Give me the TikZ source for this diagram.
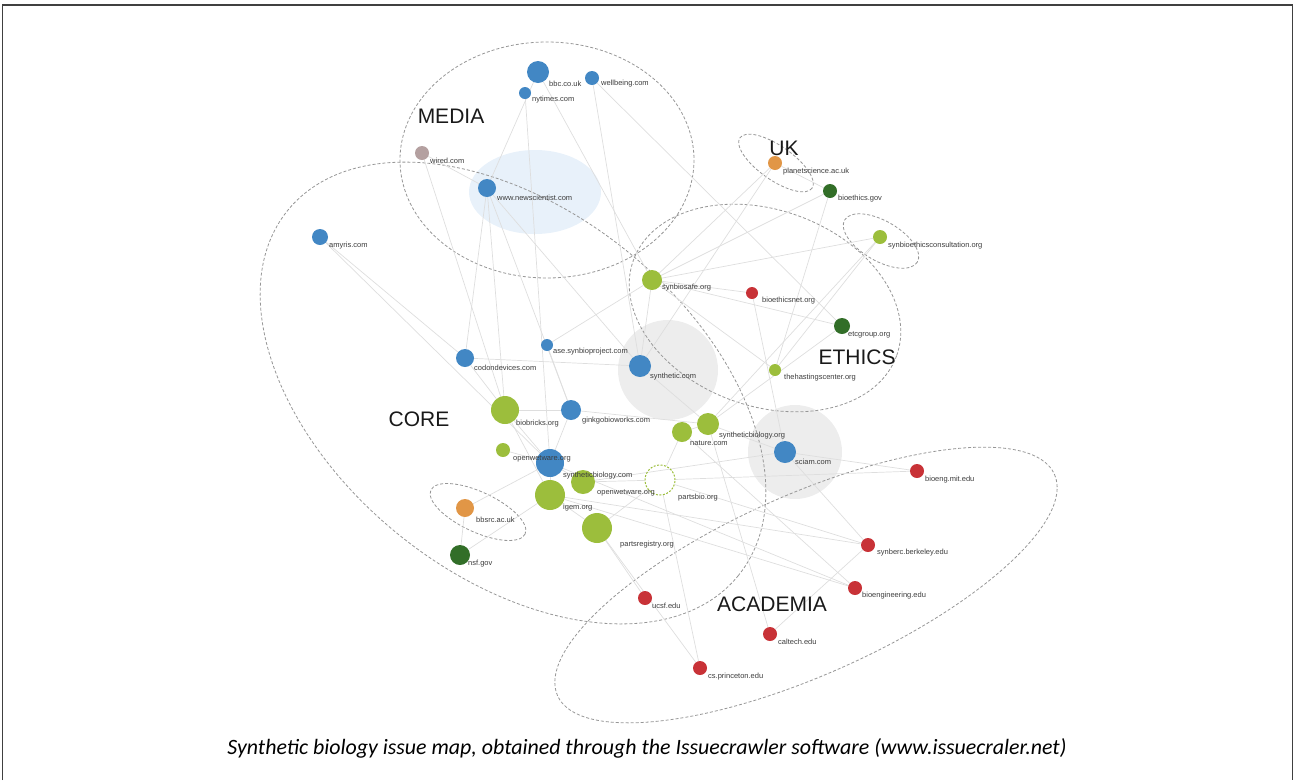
\documentclass[tikz,border=0pt]{standalone}
\usepackage{fontspec}
\setmainfont{Liberation Sans}
\newfontfamily\capfont{Carlito}
\usetikzlibrary{backgrounds}
\definecolor{cblue}{RGB}{66,135,196}
\definecolor{clgreen}{RGB}{156,190,60}
\definecolor{cdgreen}{RGB}{50,110,40}
\definecolor{cred}{RGB}{200,50,55}
\definecolor{corange}{RGB}{225,150,70}
\definecolor{cbrown}{RGB}{180,160,160}
\definecolor{edgegray}{RGB}{222,222,222}
\definecolor{clustgray}{RGB}{150,150,150}
\definecolor{labgray}{RGB}{60,60,60}
\definecolor{blobblue}{RGB}{232,241,250}
\definecolor{blobgray}{RGB}{237,237,237}
\tikzset{
  site/.style={circle, inner sep=0pt, draw=none},
  lab/.style={anchor=west, inner sep=0pt, font=\fontsize{7.5}{8}\selectfont, text=labgray},
  clusterline/.style={draw=clustgray, line width=0.8pt, dash pattern=on 3pt off 2pt},
  clusterlabel/.style={inner sep=0pt, font=\fontsize{21}{22}\selectfont, text=black!90},
  link/.style={draw=edgegray, line width=0.7pt},
}
\begin{document}
\begin{tikzpicture}[x=1pt,y=-1pt]
\useasboundingbox (0,0) rectangle (1294,780);
% frame
\draw[line width=1.5pt, draw=black!75] (2.5,780) -- (2.5,5) -- (1292.5,5) -- (1292.5,780);

% nodes
\node[site, fill=cblue, minimum size=22] (bbc) at (538,72) {};
\node[site, fill=cblue, minimum size=14] (tech) at (592,78) {};
\node[site, fill=cblue, minimum size=12] (nyt) at (525,93) {};
\node[site, fill=cbrown, minimum size=14] (wired) at (422,153) {};
\node[site, fill=cblue, minimum size=18] (newsci) at (487,188) {};
\node[site, fill=cblue, minimum size=16] (amyris) at (320,237) {};
\node[site, fill=cblue, minimum size=18] (codon) at (465,358) {};
\node[site, fill=cblue, minimum size=12] (aaas) at (547,345) {};
\node[site, fill=cblue, minimum size=22] (syncom) at (640,366) {};
\node[site, fill=clgreen, minimum size=20] (synsafe) at (652,280) {};
\node[site, fill=clgreen, minimum size=28] (biobricks) at (505,410) {};
\node[site, fill=cblue, minimum size=20] (ginkgo) at (571,410) {};
\node[site, fill=clgreen, minimum size=14] (oww) at (503,450) {};
\node[site, fill=cblue, minimum size=28] (jcvi) at (550,463) {};
\node[site, fill=clgreen, minimum size=24] (green2) at (583,482) {};
\node[site, fill=clgreen, minimum size=30] (igem) at (550,495) {};
\node[site, draw=clgreen, line width=1pt, dash pattern=on 2pt off 1.5pt, minimum size=30] (hollow) at (660,480) {};
\node[site, fill=clgreen, minimum size=30] (parts) at (597,528) {};
\node[site, fill=corange, minimum size=18] (bbsrc) at (465,508) {};
\node[site, fill=cdgreen, minimum size=20] (nsf) at (460,555) {};
\node[site, fill=clgreen, minimum size=20] (nature) at (682,432) {};
\node[site, fill=clgreen, minimum size=22] (synbioorg) at (708,424) {};
\node[site, fill=cblue, minimum size=22] (sciam) at (785,452) {};
\node[site, fill=cred, minimum size=12] (bioethnet) at (752,293) {};
\node[site, fill=cdgreen, minimum size=16] (etc) at (842,326) {};
\node[site, fill=clgreen, minimum size=12] (hastings) at (775,370) {};
\node[site, fill=corange, minimum size=14] (planet) at (775,163) {};
\node[site, fill=cdgreen, minimum size=14] (bioethgov) at (830,191) {};
\node[site, fill=clgreen, minimum size=14] (consult) at (880,237) {};
\node[site, fill=cred, minimum size=14] (mit) at (917,471) {};
\node[site, fill=cred, minimum size=14] (berk) at (868,545) {};
\node[site, fill=cred, minimum size=14] (stanford) at (855,588) {};
\node[site, fill=cred, minimum size=14] (ucsf) at (645,598) {};
\node[site, fill=cred, minimum size=14] (caltech) at (770,634) {};
\node[site, fill=cred, minimum size=14] (princeton) at (700,668) {};

\begin{scope}[on background layer]
% shaded blobs
\fill[blobblue] (535,192) ellipse [x radius=66, y radius=42];
\fill[blobgray] (668,370) circle [radius=50];
\fill[blobgray] (795,452) circle [radius=47];
% cluster outlines
\draw[clusterline] (547,160) ellipse [x radius=147, y radius=118];
\draw[clusterline, rotate around={-39:(513,393)}] (513,393) ellipse [x radius=290, y radius=182];
\draw[clusterline, rotate around={-20:(765,308)}] (765,308) ellipse [x radius=140, y radius=98];
\draw[clusterline, rotate around={-35:(776,163)}] (776,163) ellipse [x radius=44, y radius=17];
\draw[clusterline, rotate around={-30:(881,241)}] (881,241) ellipse [x radius=42, y radius=20];
\draw[clusterline, rotate around={24:(806,585)}] (806,585) ellipse [x radius=272, y radius=90];
\draw[clusterline, rotate around={-25:(478,512)}] (478,512) ellipse [x radius=52, y radius=20];
% edges
\foreach \a/\b in {amyris/codon, bbc/newsci, bbc/synsafe, nyt/jcvi, tech/syncom, tech/etc,
  newsci/codon, newsci/ginkgo, newsci/biobricks, newsci/syncom, wired/biobricks,
  synsafe/bioethnet, synsafe/etc, synsafe/hastings, synsafe/planet, synsafe/consult,
  bioethgov/hastings, bioethnet/sciam, planet/syncom, consult/synbioorg, etc/synbioorg,
  biobricks/ginkgo, biobricks/jcvi, biobricks/igem, ginkgo/jcvi, jcvi/green2, jcvi/igem,
  igem/parts, parts/hollow, green2/hollow, hollow/nature, nature/synbioorg, synbioorg/sciam,
  jcvi/bbsrc, bbsrc/nsf, nsf/igem, oww/jcvi, codon/biobricks, aaas/ginkgo, aaas/synsafe,
  syncom/synbioorg, hollow/mit, hollow/berk, nature/stanford, jcvi/stanford, parts/ucsf,
  parts/princeton, hollow/princeton, caltech/berk, caltech/synbioorg, sciam/mit, sciam/berk,
  igem/stanford, igem/berk, codon/syncom, synsafe/syncom, bioethgov/synsafe, amyris/jcvi,
  wired/newsci, consult/hastings, planet/bioethgov, ginkgo/synbioorg, green2/sciam}
  \draw[link] (\a) -- (\b);
\end{scope}

% labels
\node[lab] (bbcL) at (549,84) {bbc.co.uk};
\node[lab] (techL) at (601,84) {wellbeing.com};
\node[lab] (nytL) at (532,100) {nytimes.com};
\node[lab] (wiredL) at (430,161) {wired.com};
\node[lab] (newsciL) at (497,198) {www.newscientist.com};
\node[lab] (amyrisL) at (329,246) {amyris.com};
\node[lab] (codonL) at (474,368) {codondevices.com};
\node[lab] (aaasL) at (553,352) {ase.synbioproject.com};
\node[lab] (syncomL) at (650,377) {synthetic.com};
\node[lab] (synsafeL) at (662,288) {synbiosafe.org};
\node[lab] (biobricksL) at (516,424) {biobricks.org};
\node[lab] (ginkgoL) at (582,421) {ginkgobioworks.com};
\node[lab] (owwL) at (513,459) {openwetware.org};
\node[lab] (jcviL) at (563,476) {syntheticbiology.com};
\node[lab] (green2L) at (597,493) {openwetware.org};
\node[lab] (igemL) at (563,508) {igem.org};
\node[lab] (hollowL) at (678,498) {partsbio.org};
\node[lab] (partsL) at (620,545) {partsregistry.org};
\node[lab] (bbsrcL) at (476,520) {bbsrc.ac.uk};
\node[lab] (nsfL) at (468,564) {nsf.gov};
\node[lab] (natureL) at (690,443) {nature.com};
\node[lab] (synbioorgL) at (719,436) {syntheticbiology.org};
\node[lab] (sciamL) at (795,462) {sciam.com};
\node[lab] (bioethnetL) at (762,301) {bioethicsnet.org};
\node[lab] (etcL) at (848,335) {etcgroup.org};
\node[lab] (hastingsL) at (784,378) {thehastingscenter.org};
\node[lab] (planetL) at (783,172) {planetscience.ac.uk};
\node[lab] (bioethgovL) at (838,199) {bioethics.gov};
\node[lab] (consultL) at (888,246) {synbioethicsconsultation.org};
\node[lab] (mitL) at (925,480) {bioeng.mit.edu};
\node[lab] (berkL) at (877,553) {synberc.berkeley.edu};
\node[lab] (stanfordL) at (862,596) {bioengineering.edu};
\node[lab] (ucsfL) at (652,606) {ucsf.edu};
\node[lab] (caltechL) at (778,642) {caltech.edu};
\node[lab] (princetonL) at (708,677) {cs.princeton.edu};

% cluster labels
\node[clusterlabel] (media) at (451,116) {MEDIA};
\node[clusterlabel] (uk) at (784,148) {UK};
\node[clusterlabel] (ethics) at (857,357) {ETHICS};
\node[clusterlabel] (core) at (419,419) {CORE};
\node[clusterlabel] (academia) at (772,604) {ACADEMIA};

% caption
\node[inner sep=0pt, font=\capfont\itshape\fontsize{21.9}{24}\selectfont] (caption) at (647,748) {Synthetic biology issue map, obtained through the Issuecrawler software (www.issuecraler.net)};
\end{tikzpicture}
\end{document}
